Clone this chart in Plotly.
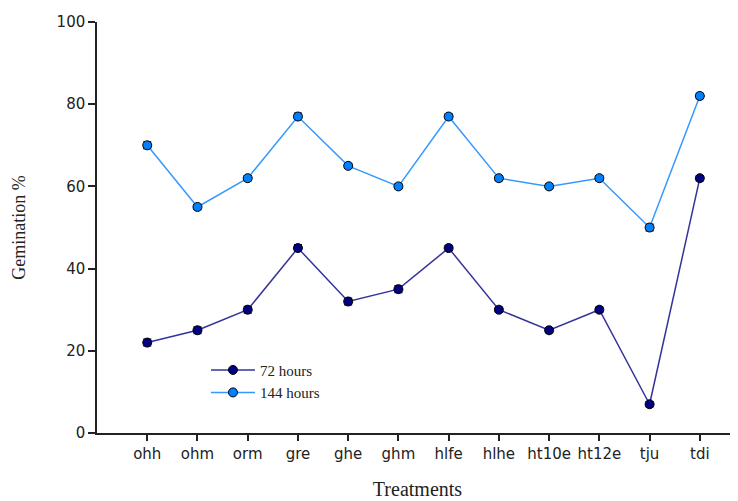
import plotly.graph_objects as go

treatments = ["ohh", "ohm", "orm", "gre", "ghe", "ghm", "hlfe", "hlhe", "ht10e", "ht12e", "tju", "tdi"]
h72 = [22, 25, 30, 45, 32, 35, 45, 30, 25, 30, 7, 62]
h144 = [70, 55, 62, 77, 65, 60, 77, 62, 60, 62, 50, 82]
err72 = [0.8, 0.8, 0.8, 0.8, 0.8, 0.8, 0.6, 0.6, 0.6, 0.6, 0.6, 0.6]
err144 = [0.8, 0.6, 0.6, 0.8, 0.6, 0.6, 0.6, 0.6, 0.6, 0.6, 0.8, 0.6]
y_ticks = [0, 20, 40, 60, 80, 100]

idx = list(range(len(treatments)))

fig = go.Figure()
fig.add_trace(go.Scatter(
    x=idx, y=h72, name="72 hours", mode="lines+markers",
    line=dict(color="#33339a", width=1.5),
    marker=dict(symbol="circle", size=9, color="#000080", line=dict(color="black", width=1)),
    error_y=dict(type="data", array=err72, color="black", thickness=1.5, width=4),
))
fig.add_trace(go.Scatter(
    x=idx, y=h144, name="144 hours", mode="lines+markers",
    line=dict(color="#3399ff", width=1.5),
    marker=dict(symbol="circle", size=9, color="#0080ff", line=dict(color="black", width=1)),
    error_y=dict(type="data", array=err144, color="black", thickness=1.5, width=4),
))

fig.update_layout(
    width=730, height=493,
    margin=dict(l=89, r=0, t=14, b=68),
    plot_bgcolor="white", paper_bgcolor="white",
    showlegend=True,
    legend=dict(x=0.17, y=0.193, xanchor="left", yanchor="top",
                font=dict(family="Liberation Serif", size=15, color="#222"),
                bgcolor="rgba(0,0,0,0)", tracegroupgap=0, itemwidth=44),
    xaxis=dict(
        range=[-1, 11.76], tickmode="array", tickvals=idx, ticktext=treatments,
        showline=True, linecolor="#222", linewidth=1.5, ticks="outside", ticklen=6,
        tickcolor="#222", tickwidth=1.5, showgrid=False, zeroline=False,
        automargin=False,
        tickfont=dict(family="DejaVu Sans", size=15, color="#222"),
        title=dict(text="Treatments", font=dict(family="Liberation Serif", size=20, color="#222"), standoff=20),
    ),
    yaxis=dict(
        range=[0, 100], tickmode="array", tickvals=y_ticks,
        showline=True, linecolor="#222", linewidth=1.5, ticks="outside", ticklen=7,
        tickcolor="#222", tickwidth=1.5, showgrid=False, zeroline=False,
        automargin=False,
        tickfont=dict(family="DejaVu Sans", size=15, color="#222"),
        title=dict(text="Gemination %", font=dict(family="Liberation Serif", size=18, color="#222"), standoff=26),
    ),
)

fig.write_html("out.html")
